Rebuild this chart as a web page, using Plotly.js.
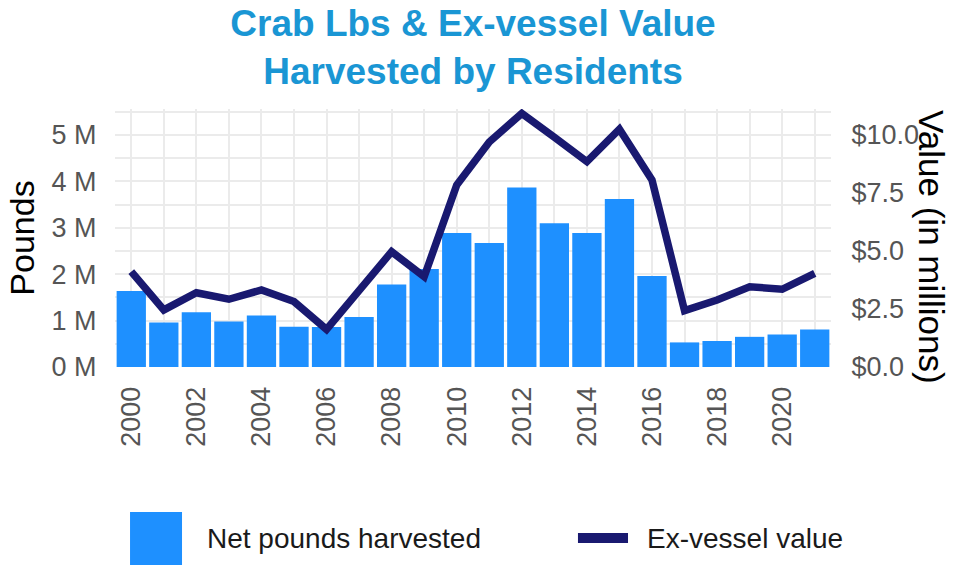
<!DOCTYPE html>
<html>
<head>
<meta charset="utf-8">
<script src="https://cdn.plot.ly/plotly-3.0.1.min.js"></script>
<style>html,body{margin:0;padding:0;background:#fff;}#chart{width:954px;height:565px;}</style>
</head>
<body>
<div id="chart"></div>
<script>
// Data
const years = [2000,2001,2002,2003,2004,2005,2006,2007,2008,2009,2010,2011,2012,2013,2014,2015,2016,2017,2018,2019,2020,2021];
// Net pounds harvested (millions of pounds)
const poundsM = [1.64,0.96,1.18,0.98,1.11,0.87,0.86,1.08,1.78,2.11,2.89,2.67,3.87,3.10,2.89,3.62,1.96,0.53,0.56,0.65,0.70,0.81];
// Ex-vessel value (millions of dollars)
const valueM = [4.11,2.46,3.20,2.92,3.32,2.82,1.62,3.30,4.97,3.89,7.84,9.70,10.93,9.90,8.85,10.25,8.06,2.43,2.89,3.46,3.35,4.04];

const yTickVals = [0,1,2,3,4,5];
const yTickText = ['0 M','1 M','2 M','3 M','4 M','5 M'];
const y2TickVals = [0,2.5,5,7.5,10];
const y2TickText = ['$0.0','$2.5','$5.0','$7.5','$10.0'];
const xTickVals = [2000,2002,2004,2006,2008,2010,2012,2014,2016,2018,2020];
const xTickText = xTickVals.map(String);

const titleText = 'Crab Lbs & Ex-vessel Value<br>Harvested by Residents';
const legendBarName = 'Net pounds harvested';
const legendLineName = 'Ex-vessel value';

const barColor = '#1e90ff';
const lineColor = '#191970';
const gridColor = '#ebebeb';
const tickColor = '#555555';
const font = 'Liberation Sans, Arial, sans-serif';

const yMax = 5.56;

const traces = [
  {
    type: 'bar', x: years, y: poundsM, name: legendBarName,
    marker: {color: barColor}, width: 0.9, yaxis: 'y', showlegend: false,
    hoverinfo: 'x+y'
  },
  {
    type: 'scatter', mode: 'lines', x: years, y: valueM, name: legendLineName,
    line: {color: lineColor, width: 7.5}, yaxis: 'y2', showlegend: false
  }
];

const layout = {
  width: 954, height: 565,
  paper_bgcolor: '#ffffff', plot_bgcolor: '#ffffff',
  margin: {l: 115, r: 123, t: 109, b: 198},
  font: {family: font, color: tickColor},
  title: {
    text: titleText,
    font: {family: font, size: 37, color: '#1a96d4', weight: 'bold'},
    x: 0.5, xref: 'paper', xanchor: 'center',
    y: 0.937, yref: 'container', yanchor: 'top'
  },
  xaxis: {
    range: [1999.5, 2021.5],
    tickvals: xTickVals, ticktext: xTickText, tickangle: -90,
    tickfont: {size: 27, color: tickColor, family: font},
    showgrid: true, gridcolor: gridColor, gridwidth: 2,
    minor: {dtick: 1, tick0: 2000, showgrid: true, gridcolor: gridColor, gridwidth: 2},
    ticks: 'outside', ticklen: 8, tickcolor: 'rgba(0,0,0,0)',
    zeroline: false, showline: false, fixedrange: true
  },
  yaxis: {
    range: [0, yMax],
    tickvals: yTickVals, ticktext: yTickText,
    tickfont: {size: 27, color: tickColor, family: font},
    showgrid: true, gridcolor: gridColor, gridwidth: 2,
    minor: {dtick: 0.5, tick0: 0, showgrid: true, gridcolor: gridColor, gridwidth: 2},
    ticks: 'outside', ticklen: 12, tickcolor: 'rgba(0,0,0,0)',
    zeroline: false, showline: false,
    title: {text: 'Pounds', font: {size: 34, color: '#000000', family: font}, standoff: 6}
  },
  yaxis2: {
    range: [0, yMax * 2], overlaying: 'y', side: 'right',
    tickvals: y2TickVals, ticktext: y2TickText,
    tickfont: {size: 27, color: tickColor, family: font},
    showgrid: false, zeroline: false, showline: false,
    ticks: 'outside', ticklen: 14, tickcolor: 'rgba(0,0,0,0)'
  },
  showlegend: false,
  shapes: [
    {type: 'rect', xref: 'paper', yref: 'paper', x0: 0.021, x1: 0.0936, y0: -0.562, y1: -0.77,
     fillcolor: barColor, line: {width: 0}},
    {type: 'line', xref: 'paper', yref: 'paper', x0: 0.6466, x1: 0.7165, y0: -0.663, y1: -0.663,
     line: {color: lineColor, width: 10}}
  ],
  annotations: [
    {text: 'Value (in millions)', xref: 'paper', yref: 'paper', x: 1.141, y: 0.465,
     xanchor: 'center', yanchor: 'middle', textangle: 90, showarrow: false,
     font: {size: 35, color: '#000000', family: font}},
    {text: legendBarName, xref: 'paper', yref: 'paper', x: 0.1257, y: -0.663,
     xanchor: 'left', yanchor: 'middle', showarrow: false,
     font: {size: 28, color: '#1a1a1a', family: font}},
    {text: legendLineName, xref: 'paper', yref: 'paper', x: 0.740, y: -0.663,
     xanchor: 'left', yanchor: 'middle', showarrow: false,
     font: {size: 28, color: '#1a1a1a', family: font}}
  ]
};

Plotly.newPlot('chart', traces, layout, {displayModeBar: false, staticPlot: true});
</script>
</body>
</html>
